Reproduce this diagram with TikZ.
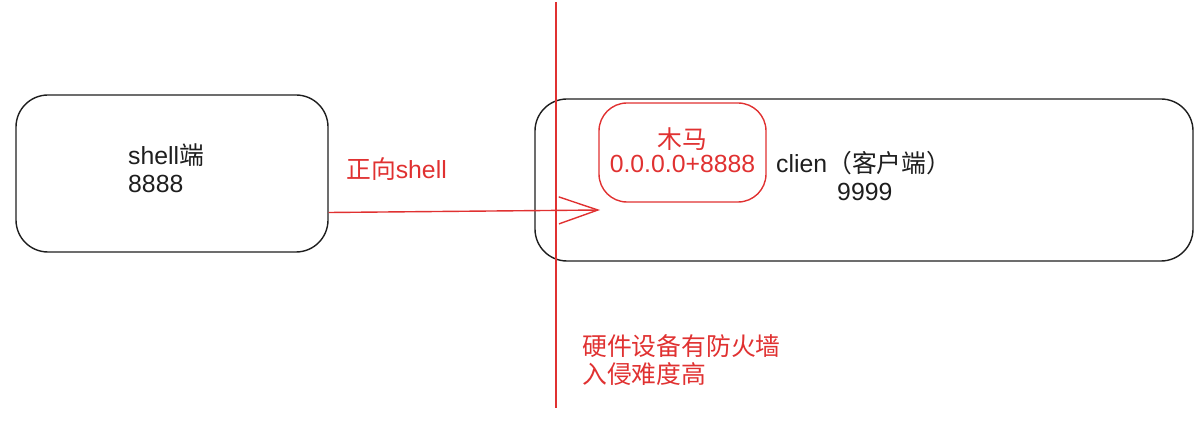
\documentclass[tikz,border=0pt]{standalone}
\usepackage{fontspec}
\setmainfont{Liberation Sans}
\newfontfamily\cjk{Noto Sans CJK SC}
\usetikzlibrary{arrows.meta,calc}
\definecolor{ink}{HTML}{1E1E1E}
\definecolor{xred}{HTML}{E03131}
\tikzset{
  blackbox/.style={draw=ink, line width=1.4pt, rounded corners=32pt, inner sep=0pt},
  redbox/.style={draw=xred, line width=1.4pt, rounded corners=28pt, inner sep=0pt},
  txt/.style={inner sep=0pt, anchor=base west, text=ink, font=\fontsize{24.8}{28}\selectfont},
  rtxt/.style={txt, text=xred},
  arrowline/.style={draw=xred, line width=1.4pt, -{Straight Barb[length=39pt,width=27pt,line width=1.4pt]}},
}
\begin{document}
\begin{tikzpicture}[x=1pt,y=-1pt]
\useasboundingbox (0,0) rectangle (1204,430);
% boxes
\node[blackbox, minimum width=312pt, minimum height=157pt] (lbox) at (172,173.5) {};
\node[blackbox, minimum width=658pt, minimum height=162pt] (rbox) at (864,180) {};
\node[redbox, minimum width=167pt, minimum height=99pt] (trojan) at (682.5,152.5) {};
% texts
\node[txt] (s1) at (128,165) {shell{\cjk 端}};
\node[txt] (s2) at (128,193) {8888};
\node[rtxt, anchor=base] (t1) at (682.5,149) {\cjk 木马};
\node[rtxt, anchor=base] (t2) at (682.5,173) {0.0.0.0+8888};
\node[txt] (c1) at (776,173) {clien{\cjk （客户端）}};
\node[txt] (c2) at (837,201) {9999};
\node[rtxt] (fw) at (346,179) {{\cjk 正向}shell};
\node[rtxt] (h1) at (582,355) {\cjk 硬件设备有防火墙};
\node[rtxt] (h2) at (582,383) {\cjk 入侵难度高};
% firewall line
\coordinate (wtop) at (556,2);
\coordinate (wbot) at (556,408);
\draw[xred, line width=2pt] (wtop) -- (wbot);
% arrow
\coordinate (tip) at (600,210);
\draw[arrowline] ($(lbox.east)+(0,39)$) -- (tip);
\end{tikzpicture}
\end{document}
